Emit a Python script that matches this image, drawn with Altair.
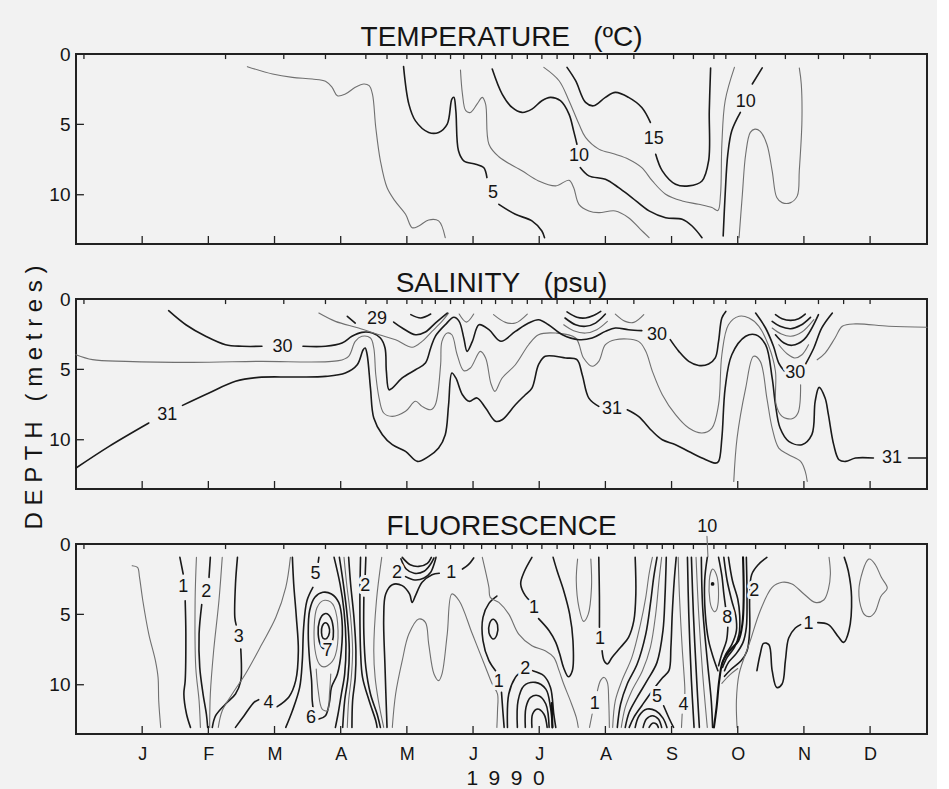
import altair as alt
import pandas as pd

FONT = "Liberation Sans"
BG = "#f2f2f2"
INK = "#151515"
NB = "\u00a0"

X_MAX = 12.86
D_MAX = 13.5
MONTH_TICKS = [1, 2, 3, 4, 5, 6, 7, 8, 9, 10, 11, 12]
MONTH_LABELS = ["J", "F", "M", "A", "M", "J", "J", "A", "S", "O", "N", "D"]
SAMPLE_TICKS = [0.12, 2.26, 3.14, 3.77, 4.38, 4.70, 5.00, 5.23, 5.43, 5.66, 5.86,
                6.13, 6.34, 6.59, 6.82, 7.04, 7.27, 7.52, 7.77, 8.03, 8.43, 9.03,
                9.33, 9.64, 9.82, 10.27, 10.72, 11.22, 11.60, 12.00]
FLUOR_EXTRA_TICKS = [8.63, 8.86]
DEPTH_TICKS = [5, 10]
DEPTH_LABELS = [0, 5, 10]

STYLES = ["thin", "thick", "bold"]
WIDTHS = [1.1, 2.1, 6.5]
COLORS = ["#707070", "#1a1a1a", "#111111"]

TITLES = ["TEMPERATURE" + NB * 3 + "(\u00baC)", "SALINITY" + NB * 3 + "(psu)", "FLUORESCENCE"]
TITLE_DEPTHS = [-0.57, -0.50, -0.64]
Y_TITLE = NB.join("DEPTH") + NB * 3 + NB.join("(metres)")
X_TITLE = "1\u20029\u20029\u20020"

# ---------------- TEMPERATURE contours (month, depth) ----------------
TEMP_LINES = {
    "t_a": ("thin", False, [(2.59, 0.90), (2.97, 1.42), (3.27, 1.66), (3.57, 1.78), (3.77, 1.94), (3.87, 2.37),
                            (3.95, 2.97), (4.07, 2.85), (4.22, 2.37), (4.35, 2.13), (4.43, 2.25), (4.48, 2.85),
                            (4.53, 5.22), (4.60, 7.59), (4.70, 9.49), (4.82, 10.44), (4.98, 11.39), (5.08, 12.34),
                            (5.18, 12.22), (5.33, 11.79), (5.48, 11.86), (5.58, 13.05)]),
    "t5_a": ("thick", False, [(4.95, 0.90), (5.03, 3.56), (5.13, 4.75), (5.33, 5.57), (5.48, 5.57), (5.61, 4.98),
                              (5.68, 3.20), (5.71, 3.08), (5.74, 4.03), (5.78, 6.88), (5.86, 7.59), (6.04, 7.83),
                              (6.16, 8.07), (6.21, 8.78)]),
    "t5_b": ("thick", False, [(6.39, 10.68), (6.64, 11.39), (6.89, 11.86), (7.04, 12.58), (7.08, 13.05)]),
    "t_b": ("thin", False, [(5.81, 1.14), (5.84, 2.85), (5.89, 4.03), (5.96, 4.15), (6.06, 3.56), (6.14, 3.08),
                            (6.19, 3.56), (6.24, 6.41), (6.39, 7.30), (6.74, 8.30), (6.99, 9.02), (7.25, 9.37),
                            (7.45, 8.97), (7.52, 9.49), (7.60, 10.68), (7.75, 11.15), (7.90, 11.27), (8.15, 11.15),
                            (8.35, 11.63), (8.53, 12.46), (8.66, 13.05)]),
    "t10_a": ("thick", False, [(6.29, 1.07), (6.44, 2.85), (6.59, 3.80), (6.74, 4.15), (6.89, 3.92), (7.04, 3.32),
                               (7.17, 3.08), (7.32, 3.32), (7.45, 4.27), (7.52, 5.46), (7.57, 6.41)]),
    "t10_b": ("thick", False, [(7.62, 8.07), (7.75, 8.66), (8.00, 8.90), (8.20, 9.49), (8.40, 10.20), (8.66, 11.15),
                               (8.91, 11.63), (9.16, 11.74), (9.31, 12.22), (9.46, 13.05)]),
    "t_c": ("thin", False, [(7.07, 0.95), (7.30, 1.90), (7.45, 3.32), (7.60, 4.98), (7.70, 5.93), (7.90, 6.76),
                            (8.15, 7.12), (8.35, 7.47), (8.55, 8.07), (8.71, 9.02), (8.91, 9.96), (9.16, 10.44),
                            (9.41, 10.68), (9.61, 10.91), (9.70, 11.12), (9.74, 9.96), (9.76, 6.41), (9.81, 3.32),
                            (9.95, 0.95)]),
    "t15_a": ("thick", False, [(7.42, 0.95), (7.55, 1.90), (7.70, 3.44), (7.82, 3.68), (8.00, 3.08), (8.15, 2.73),
                               (8.35, 3.08), (8.55, 3.80), (8.68, 4.86)]),
    "t15_b": ("thick", False, [(8.76, 7.12), (8.86, 8.30), (9.06, 9.25), (9.26, 9.37), (9.46, 9.02), (9.56, 7.59),
                               (9.57, 4.03), (9.59, 0.99)]),
    "t10c_a": ("thick", False, [(10.37, 0.99), (10.22, 2.13)]),
    "t10c_b": ("thick", False, [(10.04, 4.15), (9.91, 5.46), (9.85, 7.12), (9.81, 9.96), (9.78, 12.93)]),
    "t_d": ("thin", False, [(10.02, 13.05), (10.07, 9.96), (10.12, 7.12), (10.19, 5.57), (10.26, 5.34), (10.34, 5.50),
                            (10.44, 6.41), (10.52, 8.30), (10.59, 10.20), (10.67, 10.56), (10.80, 10.56),
                            (10.90, 10.08), (10.93, 8.30), (10.97, 4.75), (10.96, 2.13), (10.93, 0.99)]),
}
TEMP_LABELS = [("5", 6.30, 9.85), ("10", 7.60, 7.24), ("15", 8.73, 6.05), ("10", 10.12, 3.44)]

# ---------------- SALINITY contours ----------------
SAL_LINES = {
    "s31_a": ("thick", False, [(0.0, 12.01), (0.50, 10.47), (1.10, 8.81)]),
    "s31_b": ("thick", False, [(1.61, 7.56), (2.01, 6.68), (2.41, 5.85), (2.76, 5.57), (3.27, 5.54), (3.77, 5.50),
                               (4.07, 5.26), (4.25, 4.67), (4.34, 3.60), (4.37, 3.48), (4.40, 3.96), (4.45, 6.33),
                               (4.50, 8.45), (4.63, 9.64), (4.78, 10.35), (4.98, 10.83), (5.16, 11.54), (5.33, 11.18),
                               (5.48, 10.59), (5.58, 9.64), (5.63, 7.53), (5.68, 5.26), (5.74, 5.61), (5.84, 6.80),
                               (5.94, 7.27), (6.06, 7.03), (6.19, 7.75), (6.34, 8.69), (6.44, 8.58), (6.64, 7.51),
                               (6.79, 6.80), (6.89, 6.33), (6.99, 4.67), (7.09, 4.07), (7.40, 4.19), (7.57, 4.31),
                               (7.65, 5.38), (7.75, 7.04), (7.90, 7.63)]),
    "s31_c": ("thick", False, [(8.33, 7.87), (8.50, 8.34), (8.71, 9.40), (8.86, 10.00), (9.06, 10.35), (9.26, 10.83),
                               (9.46, 11.30), (9.66, 11.66), (9.71, 11.54), (9.76, 9.88), (9.81, 6.33), (9.91, 3.96),
                               (10.12, 2.65), (10.27, 2.54), (10.42, 3.25), (10.52, 5.61), (10.57, 7.51),
                               (10.64, 9.17), (10.77, 10.11), (10.97, 10.35), (11.12, 9.64), (11.17, 7.27),
                               (11.23, 6.28), (11.32, 7.04), (11.37, 8.22), (11.45, 10.35), (11.53, 11.42),
                               (11.63, 11.54), (11.78, 11.30), (12.05, 11.30)]),
    "s31_d": ("thick", False, [(12.58, 11.30), (12.86, 11.30)]),
    "s_mid": ("thin", False, [(0.0, 3.96), (0.25, 4.31), (0.75, 4.43), (1.76, 4.50), (2.76, 4.43), (3.97, 4.38),
                              (4.12, 4.07), (4.22, 3.01), (4.32, 2.65), (4.45, 2.77), (4.50, 3.48), (4.53, 5.38),
                              (4.58, 7.04), (4.65, 8.10), (4.78, 8.34), (4.98, 7.98), (5.13, 7.27), (5.23, 7.63),
                              (5.36, 7.87), (5.43, 7.51), (5.51, 4.67), (5.53, 3.01), (5.61, 2.42), (5.68, 2.54),
                              (5.76, 3.96), (5.86, 5.09), (5.96, 4.90), (6.11, 3.72), (6.19, 4.19), (6.27, 6.00),
                              (6.33, 6.56), (6.44, 5.61), (6.64, 4.67), (6.84, 3.25), (6.99, 2.54), (7.25, 2.42),
                              (7.55, 2.77), (7.67, 4.19), (7.80, 4.78), (7.90, 4.43), (8.00, 3.25), (8.15, 2.89),
                              (8.50, 3.01), (8.61, 3.72), (8.71, 5.14), (8.86, 6.80), (9.06, 8.22), (9.26, 9.17),
                              (9.46, 9.52), (9.61, 9.17), (9.71, 7.51), (9.76, 3.96), (9.86, 1.83), (10.02, 1.23),
                              (10.17, 1.35), (10.32, 1.94), (10.47, 3.36), (10.57, 5.14), (10.58, 7.51),
                              (10.67, 8.34), (10.82, 8.51), (10.91, 8.10), (10.95, 6.09)]),
    "s30_a": ("thick", False, [(1.40, 0.83), (1.66, 1.83), (1.96, 2.65), (2.26, 3.25), (2.51, 3.36), (2.81, 3.36)]),
    "s30_b": ("thick", False, [(3.43, 3.36), (3.77, 3.36), (4.02, 3.13), (4.17, 2.65), (4.32, 2.37), (4.48, 2.42),
                               (4.60, 2.77), (4.67, 3.48), (4.69, 5.13), (4.73, 6.45), (4.78, 6.33), (4.93, 5.61),
                               (5.13, 5.03), (5.28, 4.55), (5.36, 3.48), (5.43, 2.65), (5.58, 1.83), (5.71, 1.30),
                               (5.79, 1.59), (5.86, 2.77), (5.91, 3.72), (5.99, 3.01), (6.09, 1.83), (6.24, 2.18),
                               (6.42, 3.00), (6.64, 2.30), (6.84, 1.71), (6.99, 1.47), (7.14, 1.83), (7.35, 2.54),
                               (7.60, 2.89), (7.80, 2.77), (8.00, 2.30), (8.15, 2.06), (8.35, 2.18), (8.55, 2.25)]),
    "s30_c": ("thick", False, [(8.98, 2.89), (9.11, 3.72), (9.26, 4.43), (9.41, 4.72), (9.56, 4.62), (9.66, 4.19),
                               (9.71, 3.01), (9.76, 1.35), (9.82, 0.88)]),
    "s30r_a": ("thick", False, [(10.27, 1.00), (10.42, 2.06), (10.54, 3.36), (10.62, 4.55), (10.70, 5.10)]),
    "s30r_b": ("thick", False, [(11.02, 4.67), (11.15, 3.48), (11.27, 2.06), (11.43, 1.00)]),
    "s_right": ("thin", False, [(11.20, 4.32), (11.32, 3.84), (11.47, 2.77), (11.58, 1.94), (11.78, 1.77),
                                (12.28, 1.94), (12.86, 2.01)]),
    "s_hair": ("thin", False, [(9.94, 12.96), (9.99, 9.88), (10.12, 6.33), (10.24, 4.07), (10.34, 4.43),
                               (10.44, 7.04), (10.52, 9.17), (10.62, 10.59), (10.77, 11.06), (10.95, 11.54),
                               (11.02, 12.25), (11.05, 12.96)]),
    "u_a": ("thick", False, [(10.57, 1.11), (10.67, 1.40), (10.80, 1.52), (10.92, 1.40), (11.02, 1.07)]),
    "u_b": ("thick", False, [(10.52, 1.59), (10.64, 1.94), (10.80, 2.11), (10.95, 1.87), (11.10, 1.30)]),
    "u_c": ("thin", False, [(10.52, 2.06), (10.66, 2.49), (10.80, 2.65), (10.97, 2.35), (11.15, 1.47)]),
    "u_d": ("thick", False, [(10.57, 2.54), (10.70, 3.13), (10.82, 3.29), (11.00, 2.89), (11.22, 1.11)]),
    "u_e": ("thin", False, [(10.62, 3.25), (10.75, 3.91), (10.86, 4.19), (10.97, 3.96), (11.07, 3.25)]),
    "u_f": ("thin", False, [(6.31, 1.11), (6.49, 1.66), (6.64, 1.71), (6.82, 1.07)]),
    "n_1": ("thick", False, [(7.42, 0.92), (7.57, 1.30), (7.70, 1.35), (7.82, 1.18), (7.93, 0.88)]),
    "n_2": ("thick", False, [(7.39, 1.35), (7.55, 1.83), (7.70, 1.94), (7.85, 1.71), (8.00, 1.07)]),
    "n_3": ("thin", False, [(7.37, 1.83), (7.52, 2.25), (7.70, 2.42), (7.87, 2.18), (8.03, 1.59)]),
    "u_g": ("thin", False, [(8.15, 1.07), (8.30, 1.59), (8.43, 1.66), (8.58, 1.11)]),
    "u_h": ("thin", False, [(5.79, 1.07), (5.90, 1.64), (6.01, 1.07)]),
    "u_i": ("thick", False, [(5.06, 1.11), (5.21, 1.35), (5.36, 1.07)]),
    "s29_thin": ("thin", False, [(3.67, 1.00), (3.92, 1.59), (4.27, 2.06), (4.58, 2.54), (4.83, 2.89), (5.08, 3.43),
                                 (5.23, 3.01), (5.38, 2.30), (5.53, 1.59), (5.63, 1.00)]),
    "s29_a": ("thick", False, [(4.10, 1.23), (4.22, 1.71)]),
    "s29_b": ("thick", False, [(4.80, 1.64), (4.93, 2.06), (5.13, 2.54), (5.28, 2.35), (5.43, 1.71), (5.61, 1.00)]),
}
SAL_LABELS = [("31", 1.38, 8.27), ("30", 3.12, 3.43), ("29", 4.55, 1.40), ("30", 8.78, 2.54),
              ("31", 8.10, 7.80), ("30", 10.87, 5.26), ("31", 12.33, 11.30)]

# ---------------- FLUORESCENCE contours ----------------
FLU_LINES = {
    "f1": ("thin", False, [(0.85, 1.54), (0.93, 1.66), (0.96, 2.37), (1.01, 4.03), (1.10, 6.40), (1.20, 8.29),
                           (1.24, 9.48), (1.25, 11.14), (1.28, 13.03)]),
    "f2_a": ("thick", False, [(1.57, 0.95), (1.62, 2.13)]),
    "f2_b": ("thick", False, [(1.65, 4.03), (1.66, 6.40), (1.65, 9.72), (1.63, 10.66), (1.67, 12.08), (1.73, 13.03)]),
    "f3": ("thin", False, [(1.82, 0.95), (1.80, 4.03), (1.81, 8.77), (1.86, 11.14), (1.88, 13.03)]),
    "f4_a": ("thick", False, [(2.03, 0.95), (2.01, 2.37)]),
    "f4_b": ("thick", False, [(1.90, 4.31), (1.86, 6.40), (1.87, 8.77), (1.92, 10.66), (1.97, 12.08), (1.99, 13.03)]),
    "f5": ("thin", False, [(2.21, 0.95), (2.16, 4.03), (2.08, 7.59), (2.03, 10.66), (2.02, 13.03)]),
    "f6_a": ("thick", False, [(2.44, 0.95), (2.41, 2.84), (2.40, 5.21), (2.42, 5.75)]),
    "f6_b": ("thick", False, [(2.49, 7.46), (2.50, 8.77), (2.49, 9.72), (2.41, 10.66), (2.26, 11.37), (2.11, 12.20),
                              (2.06, 13.03)]),
    "f7": ("thin", False, [(3.24, 0.95), (3.17, 3.08), (3.02, 5.21), (2.81, 7.11), (2.56, 9.24), (2.36, 10.66),
                           (2.21, 11.85), (2.15, 13.03)]),
    "f8_a": ("thick", False, [(2.41, 13.03), (2.54, 12.20), (2.69, 11.25), (2.76, 11.06)]),
    "f8_b": ("thick", False, [(3.04, 11.56), (3.22, 10.85), (3.32, 9.71), (3.36, 7.58), (3.33, 5.21), (3.29, 2.84),
                              (3.27, 0.95)]),
    "f9_a": ("thick", False, [(3.17, 13.03), (3.27, 11.85), (3.38, 10.19), (3.42, 8.29), (3.44, 5.92), (3.49, 4.03),
                              (3.58, 3.08)]),
    "f9_b": ("thick", False, [(3.66, 1.30), (3.67, 0.95)]),
    "f6loop": ("thick", False, [(3.67, 12.44), (3.77, 12.20), (3.83, 11.25), (3.86, 10.19), (3.95, 9.24),
                                (4.01, 7.58), (4.02, 5.45), (3.97, 4.15), (3.86, 3.55), (3.73, 3.43), (3.61, 3.79),
                                (3.53, 4.74), (3.51, 6.40), (3.53, 8.29), (3.56, 9.71), (3.57, 11.14), (3.59, 11.90)]),
    "oval3": ("thin", True, [(3.76, 4.00), (3.90, 4.45), (3.96, 6.16), (3.92, 7.90), (3.80, 8.65), (3.68, 8.55),
                             (3.61, 7.46), (3.60, 5.80), (3.64, 4.55)]),
    "oval2": ("thick", True, [(3.76, 4.95), (3.85, 5.25), (3.89, 6.16), (3.87, 7.00), (3.80, 7.45), (3.71, 7.30),
                              (3.66, 6.40), (3.68, 5.45)]),
    "oval1": ("thick", True, [(3.77, 5.60), (3.82, 5.85), (3.83, 6.30), (3.79, 6.70), (3.73, 6.68), (3.71, 6.30),
                              (3.72, 5.85)]),
    "ovalU": ("thin", False, [(3.63, 8.88), (3.66, 10.42), (3.72, 11.73), (3.80, 11.85), (3.83, 10.66), (3.85, 9.24)]),
    "r1": ("thick", False, [(3.90, 0.95), (3.99, 2.84), (4.05, 4.74), (4.08, 7.11), (4.06, 9.24), (4.01, 10.66),
                            (3.96, 12.08), (3.92, 13.03)]),
    "r2": ("thick", False, [(3.98, 0.95), (4.04, 2.84), (4.10, 5.21), (4.13, 7.58), (4.11, 9.48), (4.06, 11.14),
                            (4.03, 13.03)]),
    "r3": ("thin", False, [(4.05, 0.95), (4.09, 2.84), (4.15, 5.21), (4.18, 7.58), (4.16, 9.48), (4.12, 11.14),
                           (4.10, 13.03)]),
    "r4": ("thick", False, [(4.12, 0.95), (4.15, 2.84), (4.20, 5.21), (4.23, 7.58), (4.22, 9.48), (4.18, 11.14),
                            (4.17, 13.03)]),
    "r5": ("thick", False, [(4.30, 0.95), (4.29, 4.03), (4.30, 7.58), (4.33, 9.48), (4.43, 11.14), (4.53, 12.56),
                            (4.55, 13.03)]),
    "r6_a": ("thick", False, [(4.38, 0.95), (4.37, 2.25)]),
    "r6_b": ("thick", False, [(4.35, 3.79), (4.35, 6.40), (4.38, 8.77), (4.45, 10.66), (4.55, 12.08), (4.60, 13.03)]),
    "r7": ("thin", False, [(4.62, 0.95), (4.54, 4.03), (4.50, 7.58), (4.52, 9.48), (4.57, 11.14), (4.65, 13.03)]),
    "fm_a": ("thick", False, [(4.70, 13.03), (4.67, 8.77), (4.65, 5.21), (4.68, 3.55), (4.78, 2.89), (4.93, 2.96),
                              (5.04, 3.55), (5.08, 4.15), (5.13, 3.67), (5.23, 2.72), (5.38, 2.18), (5.49, 2.08)]),
    "fm_b": ("thick", False, [(5.84, 1.78), (5.93, 1.47), (6.01, 0.99)]),
    "fu1": ("thick", False, [(4.93, 0.95), (5.05, 1.47), (5.18, 1.59), (5.31, 1.37), (5.37, 0.95)]),
    "fu2": ("thick", False, [(4.91, 1.05), (4.99, 1.78), (5.11, 2.08), (5.26, 1.94), (5.36, 1.42), (5.41, 0.99)]),
    "fu3": ("thick", False, [(4.98, 2.32), (5.12, 2.56), (5.26, 2.42), (5.36, 2.01), (5.42, 1.30), (5.44, 0.95)]),
    "ft": ("thin", False, [(4.78, 13.03), (4.83, 10.66), (4.93, 8.29), (5.03, 6.40), (5.18, 5.33), (5.28, 5.57),
                           (5.33, 7.11), (5.41, 9.24), (5.48, 9.71), (5.53, 9.24), (5.61, 6.40), (5.68, 3.55),
                           (5.79, 4.03), (5.99, 6.40), (6.19, 8.77), (6.29, 9.95), (6.37, 10.66), (6.37, 11.80),
                           (6.36, 13.03)]),
    "fh_a": ("thick", False, [(6.36, 3.70), (6.24, 4.22), (6.15, 5.21), (6.15, 6.87), (6.24, 8.29), (6.34, 9.00)]),
    "fh_b": ("thick", False, [(6.43, 10.54), (6.45, 11.85), (6.47, 13.03)]),
    "fzero": ("thick", True, [(6.31, 5.35), (6.37, 5.75), (6.36, 6.45), (6.30, 6.75), (6.24, 6.30), (6.25, 5.65)]),
    "fg2": ("thin", False, [(6.14, 0.95), (6.24, 3.08), (6.26, 3.79), (6.39, 4.15), (6.54, 4.98), (6.69, 6.40),
                            (6.89, 7.23), (7.09, 7.58), (7.22, 8.06), (7.30, 9.00), (7.37, 9.95), (7.47, 11.13),
                            (7.56, 12.32), (7.59, 13.03)]),
    "fg1_a": ("thick", False, [(6.89, 0.95), (6.77, 2.01), (6.72, 2.84), (6.79, 3.67), (6.87, 4.07)]),
    "fg1_b": ("thick", False, [(6.99, 5.30), (7.15, 6.16), (7.25, 6.99), (7.31, 7.82), (7.37, 8.81), (7.44, 9.43),
                               (7.50, 9.00), (7.51, 6.87), (7.46, 4.98), (7.37, 3.32), (7.27, 1.90), (7.21, 0.95)]),
    "fu_thin": ("thin", False, [(7.58, 1.07), (7.56, 2.61), (7.60, 4.50), (7.67, 5.50), (7.74, 5.00), (7.79, 3.08),
                                (7.78, 1.07)]),
    "fg3_a": ("thick", False, [(7.90, 0.95), (7.91, 3.79), (7.91, 5.92)]),
    "fg3_b": ("thick", False, [(7.95, 7.58), (7.98, 8.29), (8.03, 8.53), (8.10, 8.06), (8.23, 7.34), (8.35, 6.63),
                               (8.43, 5.45), (8.46, 3.55), (8.45, 0.95)]),
    "fg4_a": ("thin", False, [(7.76, 13.03), (7.80, 12.08)]),
    "fg4_b": ("thin", False, [(7.88, 10.42), (7.93, 9.67), (7.98, 9.48), (8.03, 9.83), (8.05, 11.13), (8.06, 13.03)]),
    "arch1_a": ("thick", False, [(6.52, 13.03), (6.54, 10.66), (6.64, 9.48), (6.71, 9.14)]),
    "arch1_b": ("thick", False, [(6.90, 9.00), (7.07, 9.36), (7.17, 10.19), (7.22, 12.08), (7.25, 13.03)]),
    "arch2": ("thick", False, [(6.67, 13.03), (6.68, 11.14), (6.77, 10.07), (6.94, 9.83), (7.10, 10.31),
                               (7.17, 11.61), (7.20, 13.03)]),
    "arch3": ("thick", False, [(6.79, 13.03), (6.80, 11.61), (6.87, 10.90), (6.99, 10.78), (7.10, 11.37),
                               (7.15, 13.03)]),
    "arch4": ("thick", False, [(6.89, 13.03), (6.90, 12.08), (6.97, 11.73), (7.07, 12.08), (7.12, 13.03)]),
    "bar_j": ("bold", False, [(7.19, 11.30), (7.20, 13.03)]),
    "d1": ("thin", False, [(8.11, 13.03), (8.15, 11.13), (8.25, 9.71), (8.40, 8.06), (8.53, 5.69), (8.61, 3.79),
                           (8.66, 2.13), (8.71, 0.95)]),
    "d2": ("thick", False, [(8.18, 13.03), (8.23, 11.37), (8.33, 9.95), (8.48, 8.53), (8.61, 6.40), (8.68, 4.26),
                            (8.73, 2.37), (8.78, 0.95)]),
    "d3": ("thin", False, [(8.24, 13.03), (8.30, 11.61), (8.40, 10.42), (8.56, 9.00), (8.68, 7.34), (8.76, 4.98),
                           (8.81, 2.61), (8.85, 0.95)]),
    "d4": ("thick", False, [(8.30, 13.03), (8.36, 11.96), (8.48, 10.90), (8.63, 9.71), (8.78, 8.41), (8.87, 6.16),
                            (8.90, 3.79), (8.92, 0.95)]),
    "d5": ("thick", False, [(8.36, 13.03), (8.43, 12.32), (8.55, 11.49), (8.71, 10.42), (8.86, 9.52), (8.96, 9.00),
                            (8.99, 7.34), (9.01, 4.98), (9.04, 2.61), (9.07, 0.95)]),
    "a5a": ("thick", False, [(8.45, 13.03), (8.51, 12.20), (8.63, 11.73), (8.76, 11.85), (8.87, 12.37), (8.93, 13.03)]),
    "a5b": ("thick", False, [(8.57, 13.03), (8.62, 12.44), (8.71, 12.20), (8.80, 12.44), (8.85, 13.03)]),
    "a5c": ("thick", False, [(8.66, 13.03), (8.71, 12.74), (8.77, 12.79), (8.80, 13.03)]),
    "diag": ("thick", False, [(8.88, 11.49), (8.98, 12.56), (9.03, 13.03)]),
    "f4line_a": ("thin", False, [(9.10, 0.95), (9.12, 3.79), (9.16, 7.34), (9.20, 10.19), (9.20, 10.78)]),
    "f4line_b": ("thin", False, [(9.16, 12.08), (9.15, 13.03)]),
    "v1": ("thick", False, [(9.24, 0.95), (9.26, 4.98), (9.30, 9.71), (9.34, 13.03)]),
    "v2": ("thick", False, [(9.30, 0.95), (9.33, 4.98), (9.38, 9.71), (9.42, 13.03)]),
    "v3": ("thin", False, [(9.37, 0.95), (9.41, 4.98), (9.47, 9.24), (9.54, 13.03)]),
    "v4": ("thick", False, [(9.45, 0.95), (9.47, 4.50), (9.54, 8.29), (9.60, 11.13), (9.62, 13.03)]),
    "e_a": ("thick", False, [(9.54, 0.95), (9.50, 2.61), (9.51, 4.98), (9.56, 6.87), (9.63, 8.06), (9.70, 9.00)]),
    "leader": ("thin", False, [(9.535, -0.55), (9.55, 0.90)]),
    "e_oval": ("thin", True, [(9.62, 1.78), (9.69, 2.37), (9.71, 3.55), (9.69, 4.55), (9.64, 4.79), (9.58, 4.07),
                              (9.57, 2.61)]),
    "e_b1": ("thick", False, [(9.71, 0.95), (9.76, 2.25), (9.79, 3.55), (9.82, 4.62)]),
    "e_b2": ("thick", False, [(9.85, 5.92), (9.83, 6.87), (9.76, 7.82), (9.71, 8.65)]),
    "e_c": ("thick", False, [(9.79, 0.95), (9.84, 2.61), (9.91, 4.03), (9.97, 5.09), (9.98, 6.16), (9.91, 7.15),
                             (9.82, 7.82), (9.76, 8.58)]),
    "e_d": ("thick", False, [(9.86, 0.95), (9.92, 2.61), (10.00, 3.91), (10.03, 5.09), (10.02, 6.40), (9.95, 7.34),
                             (9.84, 8.06), (9.77, 8.77)]),
    "band": ("bold", False, [(10.08, 0.95), (10.09, 3.79), (10.07, 5.69), (10.01, 6.87), (9.87, 7.63), (9.77, 8.41),
                             (9.72, 9.71), (9.68, 11.61), (9.64, 13.03)]),
    "e_f": ("thick", False, [(10.13, 0.95), (10.14, 3.79), (10.13, 5.92), (10.08, 6.99), (9.98, 7.77), (9.86, 8.41),
                             (9.80, 9.00)]),
    "f2r": ("thick", False, [(10.44, 0.95), (10.31, 1.47), (10.21, 2.18), (10.18, 3.79), (10.18, 6.16),
                             (10.14, 7.60), (10.05, 8.30), (9.90, 8.90), (9.80, 9.40)]),
    "e_g": ("thin", False, [(9.76, 9.90), (9.88, 9.30), (10.00, 8.85)]),
    "flong": ("thin", False, [(9.99, 13.03), (9.98, 11.13), (10.02, 9.24), (10.19, 6.87), (10.34, 4.74),
                              (10.52, 3.08), (10.67, 2.72), (10.82, 2.84), (11.00, 3.55), (11.17, 4.15),
                              (11.30, 3.98), (11.37, 3.20), (11.40, 2.13), (11.38, 0.95)]),
    "f1r_a": ("thick", False, [(10.29, 9.00), (10.34, 7.82), (10.39, 7.06), (10.47, 7.15), (10.52, 9.00),
                               (10.59, 10.19), (10.67, 9.95), (10.72, 8.29), (10.77, 6.68), (10.87, 5.97),
                               (10.95, 5.73)]),
    "f1r_b": ("thick", False, [(11.21, 5.59), (11.37, 5.73), (11.52, 6.59), (11.60, 6.99), (11.68, 6.16),
                               (11.72, 3.79), (11.67, 1.90), (11.61, 0.95)]),
    "balloon": ("thin", True, [(11.98, 1.07), (11.89, 1.90), (11.83, 3.32), (11.88, 4.74), (11.98, 5.16),
                               (12.08, 4.79), (12.16, 3.74), (12.26, 3.13), (12.17, 2.37), (12.08, 1.47)]),
}
FLU_LABELS = [("1", 1.62, 3.08), ("2", 1.97, 3.43), ("3", 2.46, 6.63), ("4", 2.91, 11.32), ("5", 3.62, 2.13),
              ("7", 3.80, 7.58), ("6", 3.55, 12.37), ("2", 4.37, 2.96), ("2", 4.85, 2.08), ("1", 5.67, 2.08),
              ("1", 6.92, 4.57), ("1", 7.92, 6.75), ("2", 6.79, 8.88), ("1", 6.39, 9.83), ("1", 7.84, 11.37),
              ("5", 8.78, 10.85), ("4", 9.18, 11.42), ("8", 9.84, 5.26), ("2", 10.25, 3.36), ("1", 11.07, 5.69),
              ("10", 9.54, -1.18)]
FLU_DOTS = [(9.62, 2.84)]


def lines_frame(lines):
    rows = []
    for name, (style, closed, pts) in lines.items():
        for i, (m, d) in enumerate(pts):
            rows.append({"lid": name, "style": style, "closed": closed, "i": i, "m": m, "d": d})
    return pd.DataFrame(rows)


def panel(lines, labels, title, title_d, top_ticks, x_axis, y_title, dots=None):
    xs = alt.X("m:Q", scale=alt.Scale(domain=[0, X_MAX], nice=False, zero=False), axis=x_axis)
    if y_title:
        y_axis = alt.Axis(values=DEPTH_LABELS, ticks=False, domain=False, grid=False, labelFontSize=19,
                          labelPadding=6, labelFont=FONT, labelColor=INK, title=y_title,
                          titleFont=FONT, titleFontSize=24, titleFontWeight="normal", titleColor=INK,
                          titleX=-35, titleY=98, titleAngle=270, titleAlign="center",
                          titleBaseline="alphabetic")
    else:
        y_axis = alt.Axis(values=DEPTH_LABELS, ticks=False, domain=False, grid=False, labelFontSize=19,
                          labelPadding=6, labelFont=FONT, labelColor=INK, title=None)
    ys = alt.Y("d:Q", scale=alt.Scale(domain=[0, D_MAX], reverse=True, nice=False, zero=False), axis=y_axis)
    sw = alt.StrokeWidth("style:N", scale=alt.Scale(domain=STYLES, range=WIDTHS), legend=None)
    col = alt.Color("style:N", scale=alt.Scale(domain=STYLES, range=COLORS), legend=None)

    df = lines_frame(lines)
    layers = []
    open_df = df[~df["closed"]]
    layers.append(alt.Chart(open_df).mark_line(interpolate="catmull-rom", strokeCap="round",
                                                strokeJoin="round").encode(
        x=xs, y=ys, detail="lid:N", order="i:Q", color=col, strokeWidth=sw))
    closed_df = df[df["closed"]]
    if len(closed_df):
        layers.append(alt.Chart(closed_df).mark_line(interpolate="cardinal-closed", strokeJoin="round").encode(
            x=xs, y=ys, detail="lid:N", order="i:Q", color=col, strokeWidth=sw))
    if dots:
        ddf = pd.DataFrame({"m": [p[0] for p in dots], "d": [p[1] for p in dots]})
        layers.append(alt.Chart(ddf).mark_point(filled=True, color=INK, size=14, opacity=1).encode(x=xs, y=ys))

    lab = pd.DataFrame({"t": [l[0] for l in labels], "m": [l[1] for l in labels], "d": [l[2] for l in labels]})
    layers.append(alt.Chart(lab).mark_text(font=FONT, fontSize=18, fill=BG, stroke=BG, strokeWidth=6,
                                           strokeJoin="round", align="center", baseline="middle").encode(
        x=xs, y=ys, text="t:N"))
    layers.append(alt.Chart(lab).mark_text(font=FONT, fontSize=18, color=INK, align="center",
                                           baseline="middle").encode(x=xs, y=ys, text="t:N"))

    tdf = pd.DataFrame({"m": top_ticks, "d": [0.0] * len(top_ticks), "d2": [0.36] * len(top_ticks)})
    layers.append(alt.Chart(tdf).mark_rule(color="#222", strokeWidth=1.3).encode(x=xs, y=ys, y2="d2:Q"))
    bdf = pd.DataFrame({"m": MONTH_TICKS, "d": [D_MAX] * 12, "d2": [D_MAX - 0.57] * 12})
    layers.append(alt.Chart(bdf).mark_rule(color="#222", strokeWidth=1.3).encode(x=xs, y=ys, y2="d2:Q"))
    ldf = pd.DataFrame({"d": DEPTH_TICKS, "m": [0.0] * len(DEPTH_TICKS), "m2": [0.12] * len(DEPTH_TICKS)})
    layers.append(alt.Chart(ldf).mark_rule(color="#222", strokeWidth=1.3).encode(x=xs, x2="m2:Q", y=ys))

    tt = pd.DataFrame({"t": [title], "m": [X_MAX / 2], "d": [title_d]})
    layers.append(alt.Chart(tt).mark_text(font=FONT, fontSize=28, color=INK, align="center",
                                          baseline="alphabetic").encode(x=xs, y=ys, text="t:N"))

    return alt.layer(*layers).properties(width=851, height=190)


label_expr = "[" + ",".join("'" + s + "'" for s in MONTH_LABELS) + "][datum.value - 1]"
month_axis = alt.Axis(values=MONTH_TICKS, labelExpr=label_expr, ticks=False, domain=False, grid=False,
                      labelFont=FONT, labelFontSize=18, labelColor=INK, labelPadding=11,
                      title=X_TITLE, titleFont=FONT, titleFontSize=21, titleFontWeight="normal",
                      titleColor=INK, titleX=429, titleY=50, titleAlign="center", titleBaseline="alphabetic")

p1 = panel(TEMP_LINES, TEMP_LABELS, TITLES[0], TITLE_DEPTHS[0], SAMPLE_TICKS, None, None)
p2 = panel(SAL_LINES, SAL_LABELS, TITLES[1], TITLE_DEPTHS[1], SAMPLE_TICKS, None, Y_TITLE)
p3 = panel(FLU_LINES, FLU_LABELS, TITLES[2], TITLE_DEPTHS[2], SAMPLE_TICKS + FLUOR_EXTRA_TICKS, month_axis, None,
           dots=FLU_DOTS)

chart = alt.vconcat(p1, p2, p3, spacing=55, bounds="flush").properties(
    padding={"left": 20, "top": 22, "right": 8, "bottom": 2},
    background=BG,
).configure_view(stroke="#222", strokeWidth=2)

chart.save("out.html", embed_options={"renderer": "svg", "actions": False})
